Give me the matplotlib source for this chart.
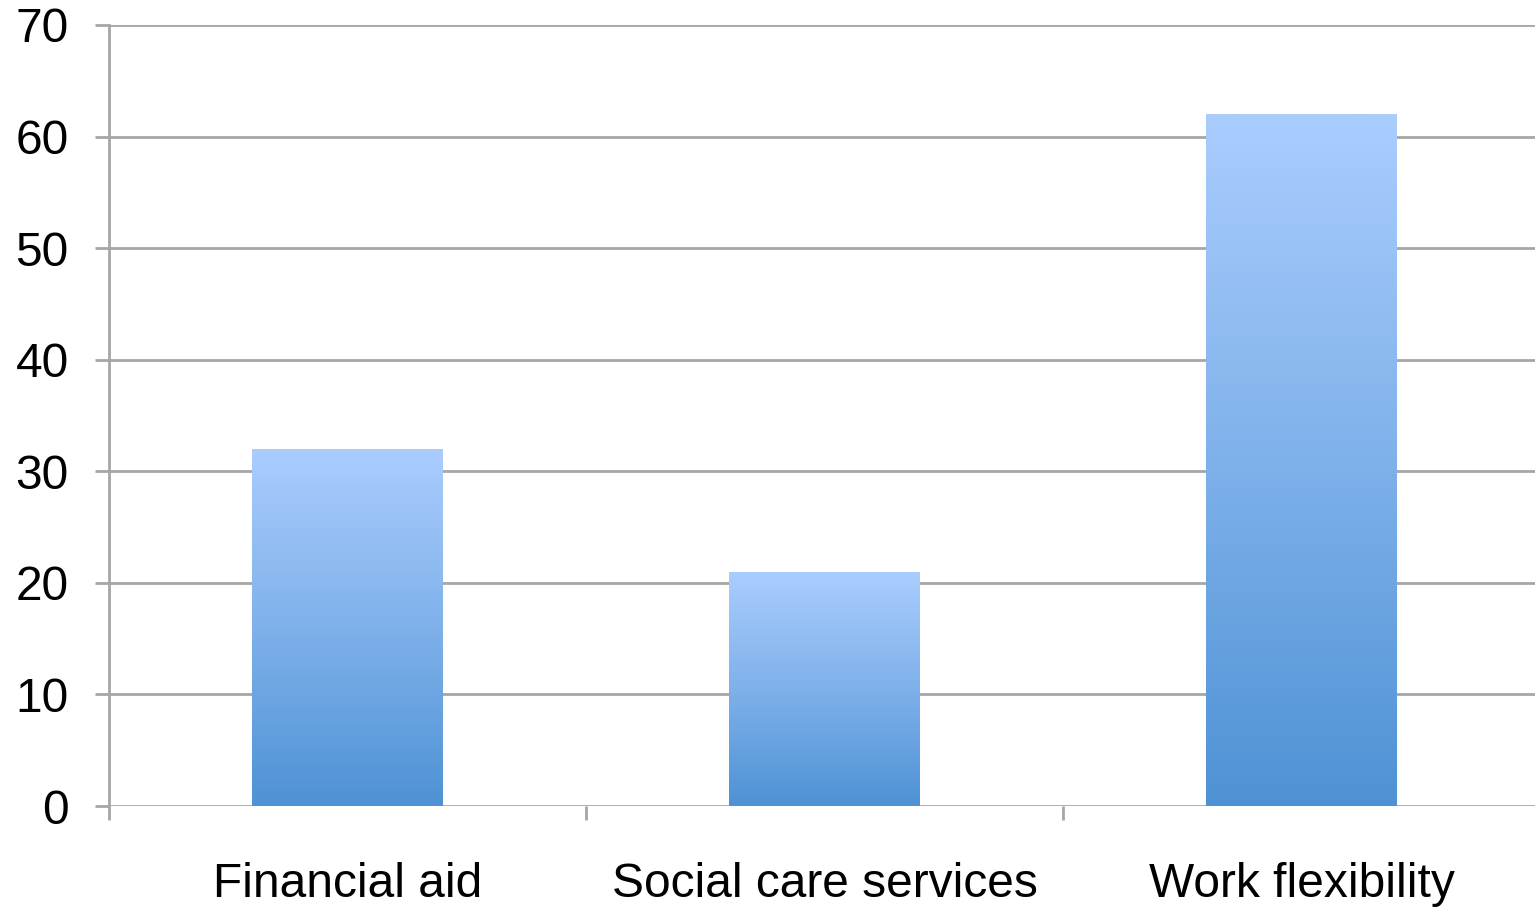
import numpy as np
import matplotlib.pyplot as plt
from matplotlib.colors import LinearSegmentedColormap

# 数据
categories = ['Financial aid', 'Social care services', 'Work flexibility']
values = [32, 21, 62]
y_ticks = [0, 10, 20, 30, 40, 50, 60, 70]

plt.rcParams['font.family'] = ['Liberation Sans', 'DejaVu Sans']

fig = plt.figure(figsize=(15.35, 9.07), dpi=100)
ax = fig.add_axes([109 / 1535, 1 - 806 / 907, (1540 - 109) / 1535, (806 - 25) / 907])

grid_col = '#a6a6a6'
x = np.arange(len(categories))
bar_w = 0.4

# 渐变色
cmap = LinearSegmentedColormap.from_list('bar_grad', ['#4e92d5', '#7fb1ea', '#aacdfe'])
grad = np.linspace(0, 1, 256).reshape(-1, 1)

bars = ax.bar(x, values, width=bar_w, color='none', edgecolor='none', zorder=3)
for b in bars:
    x0, y0 = b.get_x(), b.get_y()
    w, h = b.get_width(), b.get_height()
    im = ax.imshow(grad, cmap=cmap, origin='lower', aspect='auto',
                   extent=[x0, x0 + w, y0, y0 + h], zorder=3)
    im.set_clip_path(b)

ax.set_xlim(-0.5, len(categories) - 0.5)
ax.set_ylim(0, 70)
ax.set_yticks(y_ticks)
ax.yaxis.grid(True, color=grid_col, linewidth=2)
ax.set_axisbelow(True)

for s in ['top', 'right', 'bottom']:
    ax.spines[s].set_visible(False)
ax.spines['left'].set_color(grid_col)
ax.spines['left'].set_linewidth(2)

ax.tick_params(axis='y', length=10, width=2, color=grid_col, pad=19, labelsize=34.5)
ax.set_xticks(x)
ax.set_xticklabels(categories)
ax.set_xticks(np.arange(-0.5, len(categories) + 0.5, 1), minor=True)
ax.tick_params(axis='x', which='major', length=0, pad=40, labelsize=34.5)
ax.tick_params(axis='x', which='minor', length=10, width=2, color=grid_col)

fig.savefig('out.png', dpi=100)
